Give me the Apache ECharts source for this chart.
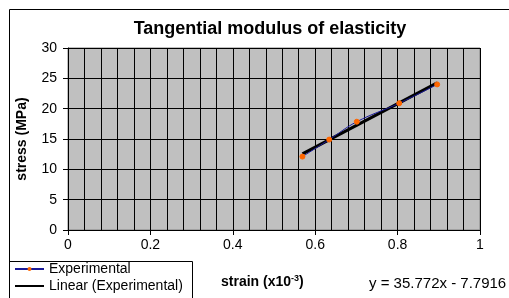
<!DOCTYPE html>
<html>
<head>
<meta charset="utf-8">
<script src="https://cdn.jsdelivr.net/npm/echarts@6/dist/echarts.min.js"></script>
<style>
  html, body { margin: 0; padding: 0; background: #fff; }
  #chart { width: 509px; height: 298px; }
</style>
</head>
<body>
<div id="chart"></div>
<script>
// values
const strain = [0.569, 0.634, 0.701, 0.804, 0.896]
const stress = [12.1, 14.9, 17.85, 20.9, 24.0]
// trend line end points (y = 35.772x - 7.7916)
const trendX = [0.569, 0.896]
const trendY = [12.56, 24.26]
const equation = 'y = 35.772x - 7.7916'

const font = 'Liberation Sans, Arial, sans-serif'
let chart = echarts.init(document.getElementById('chart'))

let option = {
  animation: false,
  backgroundColor: '#fff',
  textStyle: { fontFamily: font },
  title: {
    text: 'Tangential modulus of elasticity',
    left: 265,
    textAlign: 'center',
    top: 15,
    textStyle: { fontSize: 18, fontWeight: 'bold', color: '#000', fontFamily: font }
  },
  grid: { left: 68, right: 29, top: 48, bottom: 68, show: true, backgroundColor: '#c0c0c0', borderColor: '#808080', borderWidth: 1 },
  xAxis: {
    type: 'value',
    min: 0,
    max: 1,
    interval: 0.2,
    axisLine: { show: true, onZero: false, lineStyle: { color: '#000' } },
    axisTick: { show: true, length: 5, lineStyle: { color: '#000' } },
    axisLabel: { color: '#000', fontSize: 14, margin: 8, formatter: v => String(Math.round(v * 10) / 10) },
    splitLine: { show: true, lineStyle: { color: '#000', width: 1 } },
    minorTick: { show: false, splitNumber: 5 },
    minorSplitLine: { show: true, lineStyle: { color: '#000', width: 1 } }
  },
  yAxis: {
    type: 'value',
    min: 0,
    max: 30,
    interval: 5,
    name: 'stress (MPa)',
    nameLocation: 'middle',
    nameGap: 39,
    nameTextStyle: { fontSize: 14, fontWeight: 'bold', color: '#000' },
    axisLine: { show: true, lineStyle: { color: '#000' } },
    axisTick: { show: true, length: 5, lineStyle: { color: '#000' } },
    axisLabel: { color: '#000', fontSize: 14, margin: 11 },
    splitLine: { show: true, lineStyle: { color: '#000', width: 1 } }
  },
  legend: {
    left: 14,
    top: 262,
    padding: 0,
    orient: 'vertical',
    itemWidth: 29,
    itemHeight: 5,
    itemGap: 3,
    textStyle: { fontSize: 14, lineHeight: 14, color: '#000', fontFamily: font },
    data: [
      'Experimental',
      { name: 'Linear (Experimental)', itemStyle: { opacity: 0 }, lineStyle: { width: 2 } }
    ]
  },
  graphic: [
    { type: 'rect', left: 7, top: 7, shape: { width: 520, height: 290 }, style: { fill: null, stroke: '#000', lineWidth: 1 }, silent: true },
    { type: 'rect', left: 7, top: 259, shape: { width: 183, height: 60 }, style: { fill: null, stroke: '#000', lineWidth: 1 }, silent: true },
    {
      type: 'text', left: 221, top: 274,
      style: {
        text: '{b|strain (x10}{s|-3}{b|)}',
        rich: {
          b: { fontSize: 14, fontWeight: 'bold', fontFamily: font, fill: '#000' },
          s: { fontSize: 9, fontWeight: 'bold', fontFamily: font, fill: '#000', verticalAlign: 'top', padding: [0, 0, 7, 0] }
        }
      }
    },
    { type: 'text', left: 369, top: 276, style: { text: equation, fontSize: 15, fontFamily: font, fill: '#000' } }
  ],
  series: [
    {
      name: 'Experimental',
      type: 'line',
      smooth: 0.4,
      data: strain.map((x, i) => [x, stress[i]]),
      symbol: 'circle',
      symbolSize: 5,
      itemStyle: { color: '#ff6600', borderColor: '#ff6600' },
      lineStyle: { color: '#1a1a99', width: 1 },
      z: 3
    },
    {
      name: 'Linear (Experimental)',
      type: 'line',
      data: trendX.map((x, i) => [x, trendY[i]]),
      symbol: 'none',
      itemStyle: { color: '#000' },
      lineStyle: { color: '#000', width: 3 },
      z: 2
    }
  ]
}

chart.setOption(option)
</script>
</body>
</html>
